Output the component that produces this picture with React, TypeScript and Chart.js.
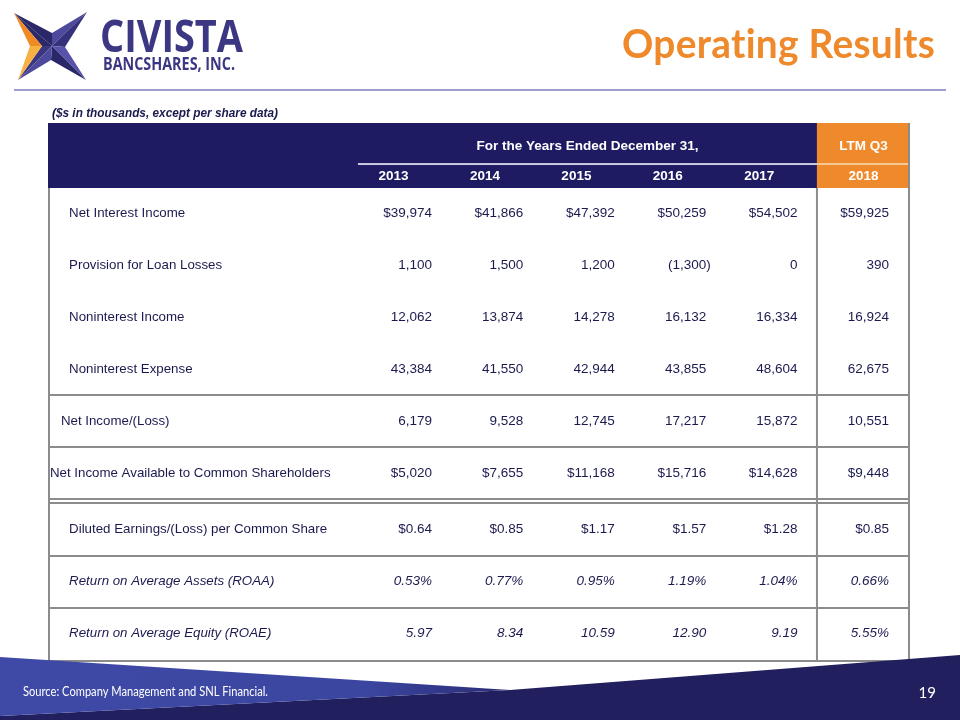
import React, { useEffect, useRef } from "react";
import { Chart, registerables } from "chart.js";
Chart.register(...registerables);

// ---------- text ----------
const TITLE = "Operating Results";
const SUBTITLE = "($s in thousands, except per share data)";
const SOURCE = "Source: Company Management and SNL Financial.";
const PAGE = "19";
const COMPANY = "CIVISTA";
const COMPANY_SUB = "BANCSHARES, INC.";
const HEADER_SPAN = "For the Years Ended December 31,";
const HEADER_LTM = "LTM Q3";
const YEARS = ["2013", "2014", "2015", "2016", "2017", "2018"];

const ROW_LABELS = [
  "Net Interest Income",
  "Provision for Loan Losses",
  "Noninterest Income",
  "Noninterest Expense",
  "Net Income/(Loss)",
  "Net Income Available to Common Shareholders",
  "Diluted Earnings/(Loss) per Common Share",
  "Return on Average Assets (ROAA)",
  "Return on Average Equity (ROAE)",
];

// ---------- values ----------
const NET_INTEREST_INCOME = [39974, 41866, 47392, 50259, 54502, 59925];
const PROVISION = [1100, 1500, 1200, -1300, 0, 390];
const NONINTEREST_INCOME = [12062, 13874, 14278, 16132, 16334, 16924];
const NONINTEREST_EXPENSE = [43384, 41550, 42944, 43855, 48604, 62675];
const NET_INCOME = [6179, 9528, 12745, 17217, 15872, 10551];
const NET_INCOME_COMMON = [5020, 7655, 11168, 15716, 14628, 9448];
const DILUTED_EPS = [0.64, 0.85, 1.17, 1.57, 1.28, 0.85];
const ROAA = [0.53, 0.77, 0.95, 1.19, 1.04, 0.66];
const ROAE = [5.97, 8.34, 10.59, 12.9, 9.19, 5.55];

const SERIES = [
  NET_INTEREST_INCOME,
  PROVISION,
  NONINTEREST_INCOME,
  NONINTEREST_EXPENSE,
  NET_INCOME,
  NET_INCOME_COMMON,
  DILUTED_EPS,
  ROAA,
  ROAE,
];

const intFmt = (v: number) => Math.abs(v).toLocaleString("en-US");
const FORMATS: ((v: number, j: number) => string)[] = [
  (v) => "$" + intFmt(v),
  (v) => (v < 0 ? "(" + intFmt(v) + ")" : intFmt(v)),
  (v) => intFmt(v),
  (v) => intFmt(v),
  (v) => intFmt(v),
  (v) => "$" + intFmt(v),
  (v) => "$" + v.toFixed(2),
  (v) => v.toFixed(2) + "%",
  (v, j) => (j === YEARS.length - 1 ? v.toFixed(2) + "%" : v.toFixed(2)),
];

// ---------- layout in scale units ----------
const X_MIN = -3.701;
const X_MAX = 5.73;
const Y_MIN = -1.731;
const Y_MAX = 8.635;
const LTM_X = 4.712;
const SPAN_LEFT = -0.31;
const HEADER_BOTTOM = -0.481;
const HEADER_RULE = -0.942;
const HEADER_TEXT_Y = -1.29;
const YEARS_Y = -0.7;
const SEPARATORS = [3.5, 4.5, 5.5, 5.58, 6.6, 7.6];
const rowY = (i: number) => i + (i >= 6 ? 0.08 : 0);
const labelX = (i: number) => (i === 5 ? -3.68 : i === 4 ? -3.56 : -3.47);

const NAVY = "#1f1b63";
const ORANGE = "#ee8a2b";
const TEXT = "#1b1a4f";
const GRID = "#8c8c8c";
const FONT = '"Liberation Sans", Arial, sans-serif';

function fitText(ctx: CanvasRenderingContext2D, text: string, x: number, y: number, w: number, align: "left" | "right" = "left") {
  const m = ctx.measureText(text).width;
  ctx.save();
  ctx.translate(align === "right" ? x - w : x, y);
  ctx.scale(w / m, 1);
  ctx.textAlign = "left";
  ctx.fillText(text, 0, 0);
  ctx.restore();
}

function poly(ctx: CanvasRenderingContext2D, pts: number[][], fill: string | CanvasGradient) {
  ctx.beginPath();
  ctx.moveTo(pts[0][0], pts[0][1]);
  for (let k = 1; k < pts.length; k++) ctx.lineTo(pts[k][0], pts[k][1]);
  ctx.closePath();
  ctx.fillStyle = fill;
  ctx.fill();
}

function drawLogo(ctx: CanvasRenderingContext2D) {
  const TL = [14, 13], TR = [87, 12], BR = [86, 80], BL = [18, 80];
  const C = [52, 46], TI = [52, 33], RI = [65, 47], BI = [51, 60], LI = [42, 46];
  poly(ctx, [TL, TI, C], "#2b2869");
  poly(ctx, [TI, TR, C], "#4d499c");
  poly(ctx, [TR, RI, C], "#35317a");
  poly(ctx, [RI, BR, C], "#5752aa");
  poly(ctx, [BR, BI, C], "#2b2869");
  poly(ctx, [BI, BL, C], "#4d499c");
  poly(ctx, [BL, LI, C], "#3a3680");
  poly(ctx, [LI, TL, C], "#2b2869");
  poly(ctx, [TL, LI, [30, 46]], "#f08a24");
  poly(ctx, [[30, 46], LI, BL], "#f6b142");
  ctx.fillStyle = "#3b3782";
  ctx.textBaseline = "alphabetic";
  ctx.font = 'bold 44px "Open Sans", sans-serif';
  fitText(ctx, COMPANY, 100, 52, 143);
  ctx.font = 'bold 17px "Open Sans", sans-serif';
  fitText(ctx, COMPANY_SUB, 103, 70, 132);
}

const slidePlugin = {
  id: "slide",
  beforeDraw(chart: any) {
    const ctx: CanvasRenderingContext2D = chart.ctx;
    const xs = chart.scales.x, ys = chart.scales.y;
    const sx = (v: number) => xs.getPixelForValue(v);
    const sy = (v: number) => ys.getPixelForValue(v);
    ctx.save();
    ctx.fillStyle = "#fff";
    ctx.fillRect(0, 0, chart.width, chart.height);
    drawLogo(ctx);
    // title
    ctx.fillStyle = ORANGE;
    ctx.font = 'bold 40px Lato, "Open Sans", sans-serif';
    (ctx as any).letterSpacing = "0.3px";
    ctx.textBaseline = "alphabetic";
    fitText(ctx, TITLE, 935, 58, 313, "right");
    (ctx as any).letterSpacing = "0px";
    // rule
    ctx.fillStyle = "#9c9ecb";
    ctx.fillRect(14, 89, 932, 2);
    // subtitle
    ctx.fillStyle = TEXT;
    ctx.font = `italic bold 13px ${FONT}`;
    fitText(ctx, SUBTITLE, 52, 117, 226);
    // header band
    ctx.fillStyle = NAVY;
    ctx.fillRect(sx(X_MIN), sy(Y_MIN), sx(LTM_X) - sx(X_MIN), sy(HEADER_BOTTOM) - sy(Y_MIN));
    ctx.fillStyle = ORANGE;
    ctx.fillRect(sx(LTM_X), sy(Y_MIN), sx(X_MAX) - sx(LTM_X), sy(HEADER_BOTTOM) - sy(Y_MIN));
    ctx.fillStyle = "#c9c9e2";
    ctx.fillRect(sx(SPAN_LEFT), sy(HEADER_RULE) - 1, sx(LTM_X) - sx(SPAN_LEFT), 2);
    ctx.fillStyle = "#f7c995";
    ctx.fillRect(sx(LTM_X), sy(HEADER_RULE) - 1, sx(X_MAX) - sx(LTM_X), 2);
    ctx.fillStyle = "#fff";
    ctx.font = `bold 13.5px ${FONT}`;
    ctx.textAlign = "center";
    ctx.textBaseline = "middle";
    ctx.fillText(HEADER_SPAN, sx((SPAN_LEFT + LTM_X) / 2), sy(HEADER_TEXT_Y));
    ctx.fillText(HEADER_LTM, sx((LTM_X + X_MAX) / 2), sy(HEADER_TEXT_Y));
    YEARS.forEach((yr, j) => {
      const cx = j === YEARS.length - 1 ? (LTM_X + X_MAX) / 2 : j + 0.08;
      ctx.fillText(yr, sx(cx), sy(YEARS_Y));
    });
    ctx.restore();
  },
  afterDatasetsDraw(chart: any) {
    const ctx: CanvasRenderingContext2D = chart.ctx;
    const xs = chart.scales.x, ys = chart.scales.y;
    const sx = (v: number) => xs.getPixelForValue(v);
    const sy = (v: number) => ys.getPixelForValue(v);
    ctx.save();
    // grid lines
    ctx.strokeStyle = GRID;
    const hline = (yv: number, w = 2) => {
      ctx.lineWidth = w;
      ctx.beginPath();
      ctx.moveTo(sx(X_MIN), Math.round(sy(yv)));
      ctx.lineTo(sx(X_MAX), Math.round(sy(yv)));
      ctx.stroke();
    };
    SEPARATORS.forEach((s) => hline(s, 2));
    hline(Y_MAX - 0.025, 2);
    ctx.lineWidth = 2;
    ctx.beginPath();
    ctx.moveTo(sx(X_MIN) + 1, sy(HEADER_BOTTOM));
    ctx.lineTo(sx(X_MIN) + 1, sy(Y_MAX));
    ctx.moveTo(sx(LTM_X), sy(HEADER_BOTTOM));
    ctx.lineTo(sx(LTM_X), sy(Y_MAX));
    ctx.moveTo(sx(X_MAX) - 1, sy(Y_MIN));
    ctx.lineTo(sx(X_MAX) - 1, sy(Y_MAX));
    ctx.stroke();
    // labels + values
    ctx.fillStyle = TEXT;
    ctx.textBaseline = "middle";
    chart.data.datasets.forEach((ds: any, i: number) => {
      const italic = i >= 7 ? "italic " : "";
      ctx.font = `${italic}13.3px ${FONT}`;
      ctx.textAlign = "left";
      ctx.fillText(ds.label, sx(labelX(i)), sy(rowY(i)));
      ctx.font = `${italic}13.5px ${FONT}`;
      const meta = chart.getDatasetMeta(i);
      meta.data.forEach((el: any, j: number) => {
        const txt = FORMATS[i](SERIES[i][j], j);
        let right = el.x;
        if (txt.endsWith(")")) right += ctx.measureText(")").width;
        ctx.textAlign = "right";
        ctx.fillText(txt, right, el.y);
      });
    });
    ctx.restore();
  },
  afterDraw(chart: any) {
    const ctx: CanvasRenderingContext2D = chart.ctx;
    ctx.save();
    poly(ctx, [[0, 716], [510, 690], [960, 655], [960, 720], [0, 720]], "#211f5e");
    const g = ctx.createLinearGradient(0, 0, 520, 0);
    g.addColorStop(0, "#3e4aa6");
    g.addColorStop(0.7, "#3b46a0");
    g.addColorStop(1, "#2a2a72");
    poly(ctx, [[0, 657], [510, 690], [0, 716]], g);
    ctx.fillStyle = "#fff";
    ctx.textBaseline = "alphabetic";
    ctx.font = '12.5px Lato, "Open Sans", sans-serif';
    fitText(ctx, SOURCE, 23, 696, 245);
    ctx.font = '15px Lato, "Open Sans", sans-serif';
    ctx.textAlign = "right";
    ctx.fillText(PAGE, 936, 698);
    ctx.restore();
  },
};

export default function App() {
  const ref = useRef<HTMLCanvasElement>(null);
  useEffect(() => {
    const chart = new Chart(ref.current as HTMLCanvasElement, {
      type: "scatter",
      data: {
        datasets: SERIES.map((vals, i) => ({
          label: ROW_LABELS[i],
          data: vals.map((_, j) => ({ x: j + 0.5, y: rowY(i) })),
          pointRadius: 0,
          pointHoverRadius: 0,
        })),
      },
      options: {
        responsive: false,
        animation: false,
        devicePixelRatio: 1,
        events: [],
        layout: { padding: { left: 48, right: 50, top: 123, bottom: 58 } },
        plugins: { legend: { display: false }, tooltip: { enabled: false } },
        scales: {
          x: { type: "linear", display: false, min: X_MIN, max: X_MAX },
          y: { type: "linear", display: false, reverse: true, min: Y_MIN, max: Y_MAX },
        },
      },
      plugins: [slidePlugin],
    } as any);
    return () => chart.destroy();
  }, []);
  return (
    <div style={{ position: "fixed", left: 0, top: 0, width: 960, height: 720, background: "#fff" }}>
      <canvas ref={ref} width={960} height={720} style={{ display: "block" }} />
    </div>
  );
}
